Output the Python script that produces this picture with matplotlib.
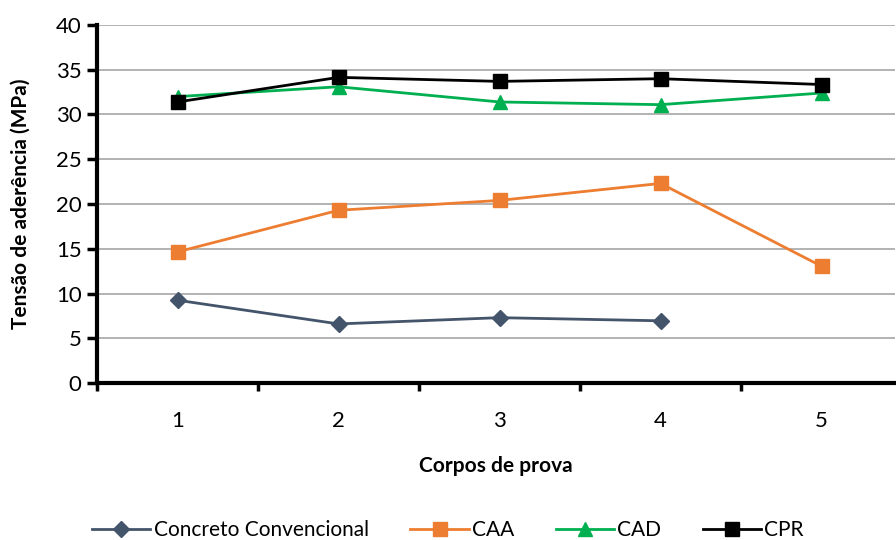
import matplotlib
matplotlib.use("Agg")
import matplotlib.pyplot as plt
from matplotlib.ticker import FixedLocator, NullFormatter

plt.rcParams['font.family'] = ['Lato', 'DejaVu Sans']

# data
corpos = [1, 2, 3, 4, 5]
conv = [9.25, 6.6, 7.3, 6.95]
caa = [14.65, 19.3, 20.4, 22.3, 13.05]
cad = [32.0, 33.1, 31.4, 31.1, 32.4]
cpr = [31.4, 34.15, 33.7, 34.0, 33.35]

fig = plt.figure(figsize=(8.96, 5.4), dpi=100)
ax = fig.add_axes([97 / 896, 1 - 383 / 540, 798 / 896, 358 / 540])

ax.plot(corpos[:len(conv)], conv, color='#44546A', lw=2, marker='D', ms=8,
        label='Concreto Convencional')
ax.plot(corpos, caa, color='#ED7D31', lw=2, marker='s', ms=10, label='CAA')
ax.plot(corpos, cad, color='#00B050', lw=2, marker='^', ms=10, label='CAD')
ax.plot(corpos, cpr, color='black', lw=2, marker='s', ms=10, label='CPR')

ax.set_xlim(0.5, 0.5 + 798 / 161)
ax.set_ylim(0, 40)
ax.set_yticks(range(0, 41, 5))
ax.set_xticks(corpos)
ax.xaxis.set_minor_locator(FixedLocator([0.5, 1.5, 2.5, 3.5, 4.5]))
ax.xaxis.set_minor_formatter(NullFormatter())
ax.tick_params(axis='x', which='major', length=0, labelsize=16, pad=20)
ax.tick_params(axis='x', which='minor', length=6, width=2.5)
ax.tick_params(axis='y', length=7, width=2.5, labelsize=16, pad=4)

ax.grid(axis='y', color='#A6A6A6', lw=1.2)
ax.set_axisbelow(True)
for s in ['top', 'right']:
    ax.spines[s].set_visible(False)
for s in ['left', 'bottom']:
    ax.spines[s].set_linewidth(3)

ax.set_xlabel('Corpos de prova', fontsize=15, fontweight='bold', labelpad=18)
ax.set_ylabel('Tensão de aderência (MPa)', fontsize=15, fontweight='bold', labelpad=18)

fig.legend(loc='lower center', bbox_to_anchor=(0.5, -0.035), ncol=4, frameon=False,
           fontsize=15, handlelength=2.8, columnspacing=2.0, handletextpad=0.15)

fig.savefig('out.png', dpi=100)
